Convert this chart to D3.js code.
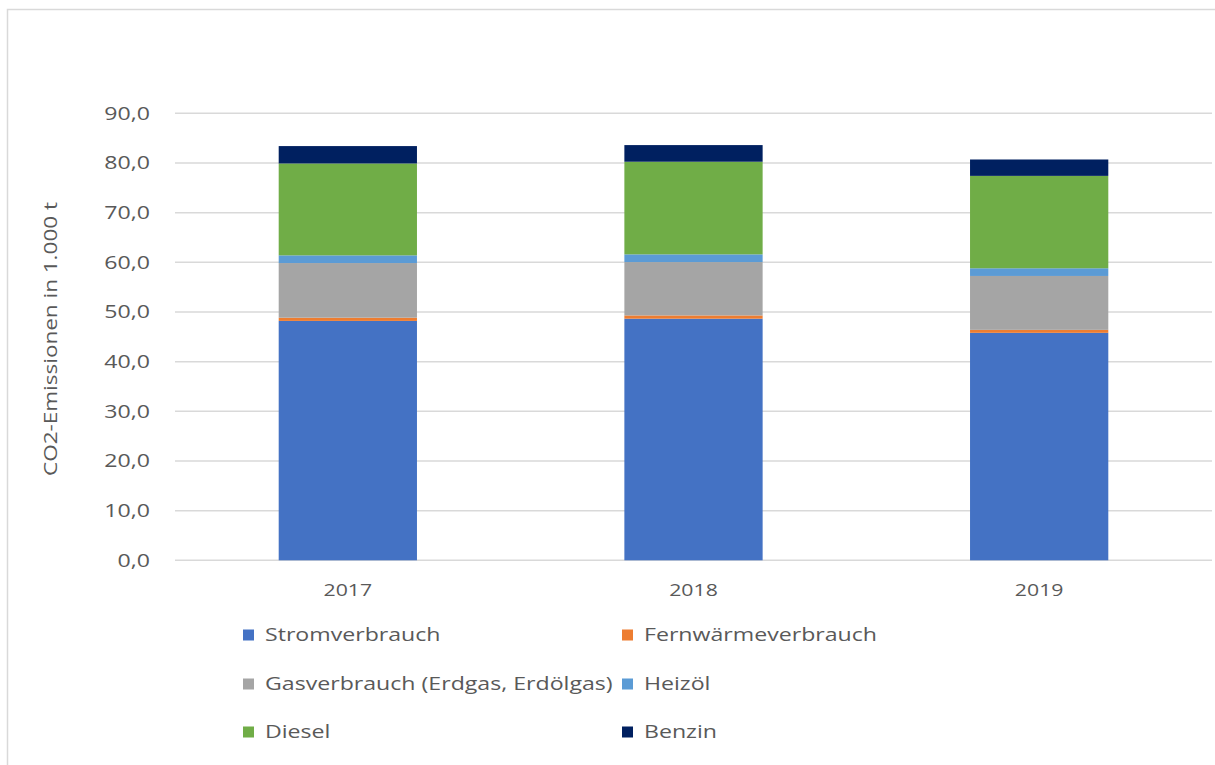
<!DOCTYPE html>
<html>
<head>
<meta charset="utf-8">
<script src="https://cdn.jsdelivr.net/npm/d3@7"></script>
<style>
  html, body { margin: 0; padding: 0; background: #fff; }
  svg { display: block; font-family: "Open Sans", "Noto Sans", sans-serif; }
</style>
</head>
<body>
<svg id="chart" width="1215" height="765"></svg>
<script>
// Jahre und CO2-Emissionen je Quelle (in 1.000 t)
const years = ["2017", "2018", "2019"];
const seriesNames = ["Stromverbrauch", "Fernwärmeverbrauch", "Gasverbrauch (Erdgas, Erdölgas)", "Heizöl", "Diesel", "Benzin"];
const strom      = [48.2, 48.65, 45.8];
const fernwaerme = [0.65, 0.65, 0.6];
const gas        = [11.0, 10.75, 10.85];
const heizoel    = [1.55, 1.55, 1.55];
const diesel     = [18.5, 18.65, 18.6];
const benzin     = [3.5, 3.35, 3.3];
const yTicks = [0, 10, 20, 30, 40, 50, 60, 70, 80, 90];
const colors = ["#4472C4", "#ED7D31", "#A5A5A5", "#5B9BD5", "#70AD47", "#002060"];

const seriesValues = [strom, fernwaerme, gas, heizoel, diesel, benzin];
const rows = years.map((y, i) => {
  const r = { year: y };
  seriesNames.forEach((n, k) => { r[n] = seriesValues[k][i]; });
  return r;
});
const stacked = d3.stack().keys(seriesNames)(rows);

const svg = d3.select("#chart");
const textColor = "#595959";
const stretch = 1.25;   // horizontale Streckung der Schrift

// Rahmen der Diagrammfläche
svg.append("rect")
  .attr("x", 7.5).attr("y", 9.5)
  .attr("width", 1220).attr("height", 770)
  .attr("fill", "#fff").attr("stroke", "#d9d9d9").attr("stroke-width", 1.5);

const plot = { left: 175, right: 1212, top: 113.3, bottom: 560.3 };

const x = d3.scaleBand().domain(years).range([plot.left, plot.right]).padding(0);
const barW = x.bandwidth() * 0.4;
const y = d3.scaleLinear().domain([0, 90]).range([plot.bottom, plot.top]);

// Gitterlinien
svg.append("g").selectAll("line").data(yTicks).join("line")
  .attr("x1", plot.left).attr("x2", plot.right)
  .attr("y1", d => y(d)).attr("y2", d => y(d))
  .attr("stroke", "#d9d9d9").attr("stroke-width", 1.5);

// Y-Achse (Beschriftung)
const yAxis = d3.axisLeft(y).tickValues(yTicks)
  .tickFormat(d => d3.format(".1f")(d).replace(".", ","))
  .tickSize(0).tickPadding(25);
const gy = svg.append("g").attr("transform", `translate(${plot.left},0)`).call(yAxis);
gy.select(".domain").remove();
gy.selectAll("text")
  .attr("x", 0)
  .attr("transform", `translate(-25,0) scale(${stretch},1)`)
  .attr("fill", textColor).style("font-size", "18.5px")
  .style("font-family", "'Open Sans', sans-serif");

// X-Achse
const xAxis = d3.axisBottom(x).tickSize(0).tickPadding(24);
const gx = svg.append("g").attr("transform", `translate(0,${plot.bottom})`).call(xAxis);
gx.select(".domain").remove();
gx.selectAll("text")
  .attr("transform", `scale(${stretch},1)`)
  .attr("fill", textColor).style("font-size", "17px")
  .style("font-family", "'Open Sans', sans-serif");

// Gestapelte Säulen
svg.append("g").selectAll("g").data(stacked).join("g")
  .attr("fill", (d, i) => colors[i])
  .selectAll("rect").data(d => d).join("rect")
  .attr("x", d => x(d.data.year) + (x.bandwidth() - barW) / 2)
  .attr("width", barW)
  .attr("y", d => y(d[1]))
  .attr("height", d => y(d[0]) - y(d[1]));

// Achsentitel
svg.append("text")
  .attr("transform", `translate(57,339) rotate(-90) scale(${stretch},1)`)
  .attr("text-anchor", "middle")
  .attr("fill", textColor)
  .style("font-size", "18px")
  .text("CO2-Emissionen in 1.000 t");

// Legende
const legendPos = [
  [243, 635], [622, 635],
  [243, 684], [622, 684],
  [243, 732], [622, 732]
];
const lg = svg.append("g").selectAll("g").data(seriesNames).join("g")
  .attr("transform", (d, i) => `translate(${legendPos[i][0]},${legendPos[i][1]})`);
lg.append("rect").attr("x", 0).attr("y", -5.5).attr("width", 11).attr("height", 11)
  .attr("fill", (d, i) => colors[i]);
lg.append("text")
  .attr("transform", `translate(22,0) scale(${stretch},1)`)
  .attr("dy", "0.35em")
  .attr("fill", textColor).style("font-size", "18.5px")
  .text(d => d);
</script>
</body>
</html>
